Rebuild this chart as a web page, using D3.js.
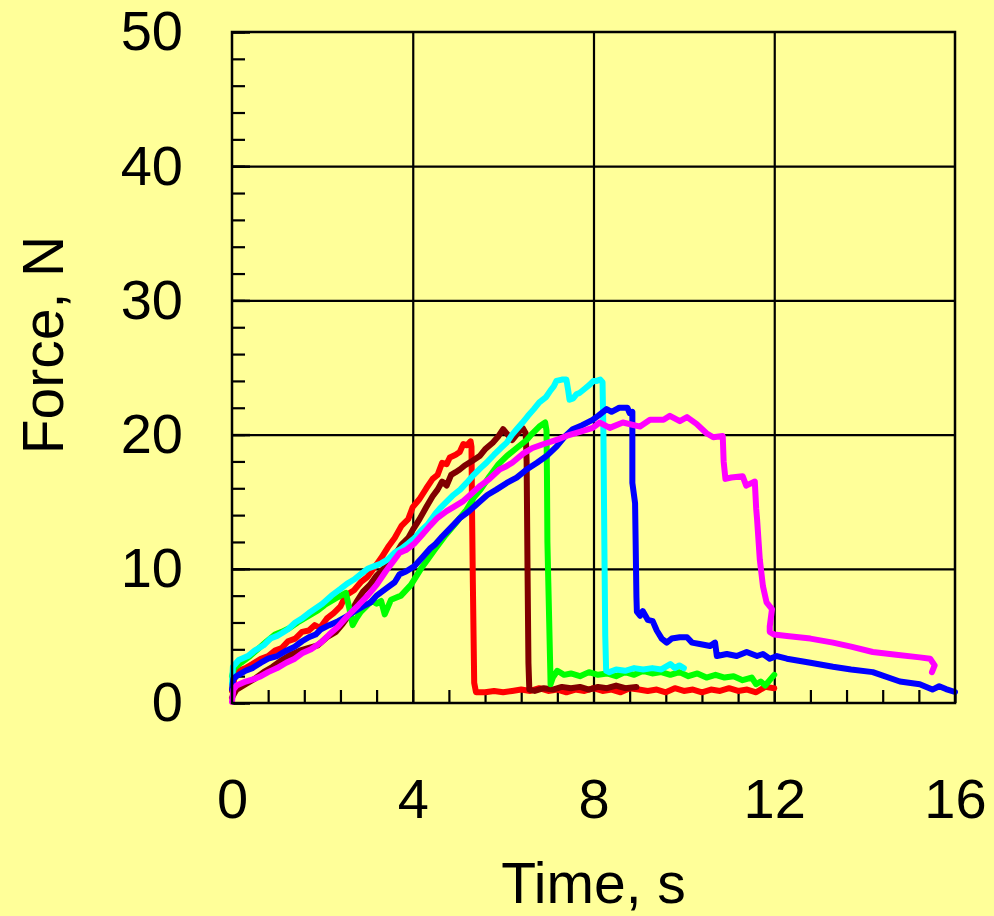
<!DOCTYPE html>
<html>
<head>
<meta charset="utf-8">
<script src="https://cdn.jsdelivr.net/npm/d3@7"></script>
<style>
    html, body {margin: 0; padding: 0; background: #FFFF99;}
    svg {display: block;}
</style>
</head>
<body>
<svg id="chart" width="994" height="916"></svg>
<script>
// series: [time s, force N]
const redSeries = [[0, 0.9], [0.05, 1.8], [0.15, 2.4], [0.3, 2.6], [0.45, 2.9], [0.64, 3.3], [0.8, 3.5], [0.95, 3.9], [1.1, 4.1], [1.24, 4.6], [1.4, 4.8], [1.55, 5.3], [1.7, 5.4], [1.83, 5.8], [1.95, 5.6], [2.1, 6.3], [2.25, 6.7], [2.4, 7.2], [2.5, 7.9], [2.56, 8.1], [2.7, 8.4], [2.85, 9.0], [3.0, 9.4], [3.15, 10.1], [3.3, 10.8], [3.45, 11.6], [3.6, 12.3], [3.75, 13.2], [3.9, 13.7], [4.0, 14.6], [4.15, 15.2], [4.3, 16.0], [4.44, 16.7], [4.55, 17.0], [4.65, 17.9], [4.75, 17.8], [4.82, 18.3], [4.95, 18.5], [5.04, 18.7], [5.12, 19.3], [5.2, 19.2], [5.28, 19.5], [5.3, 19.1], [5.31, 15.0], [5.33, 9.0], [5.36, 1.5], [5.4, 0.8], [5.6, 0.8], [5.8, 0.9], [6.0, 0.8], [6.2, 0.9], [6.4, 1.0], [6.6, 0.9], [6.8, 1.1], [7.0, 0.9], [7.2, 1.0], [7.4, 0.8], [7.6, 1.0], [7.8, 0.9], [8.0, 1.1], [8.2, 0.9], [8.4, 1.0], [8.6, 0.8], [8.8, 1.1], [9.0, 1.0], [9.2, 0.9], [9.4, 1.0], [9.6, 0.8], [9.8, 1.1], [10.0, 0.9], [10.2, 1.0], [10.4, 0.8], [10.6, 1.0], [10.8, 0.9], [11.0, 1.1], [11.2, 0.9], [11.4, 1.0], [11.6, 0.8], [11.8, 1.2], [12.0, 1.1]];

const brownSeries = [[0, 0.4], [0.1, 1.0], [0.3, 1.4], [0.5, 1.8], [0.7, 2.3], [0.9, 2.7], [1.1, 3.2], [1.3, 3.6], [1.5, 3.9], [1.7, 4.1], [1.9, 4.3], [2.1, 4.9], [2.3, 5.3], [2.45, 5.9], [2.6, 6.6], [2.75, 7.5], [2.9, 8.3], [3.05, 8.8], [3.2, 9.5], [3.35, 10.0], [3.45, 10.2], [3.6, 11.0], [3.75, 11.8], [3.9, 12.3], [4.0, 12.9], [4.15, 13.7], [4.3, 14.6], [4.44, 15.4], [4.55, 15.9], [4.65, 16.5], [4.75, 16.2], [4.85, 17.0], [4.95, 17.2], [5.04, 17.4], [5.15, 17.7], [5.3, 18.0], [5.48, 18.4], [5.6, 18.9], [5.77, 19.4], [5.9, 19.9], [6.0, 20.4], [6.1, 20.0], [6.2, 19.6], [6.3, 20.0], [6.43, 20.5], [6.5, 20.1], [6.52, 18.0], [6.54, 10.0], [6.56, 3.0], [6.58, 1.0], [6.7, 0.9], [6.9, 1.1], [7.1, 1.0], [7.3, 1.2], [7.5, 1.1], [7.7, 1.2], [7.9, 1.0], [8.1, 1.2], [8.3, 1.1], [8.5, 1.3], [8.7, 1.1], [8.95, 1.2]];

const greenSeries = [[0, 2.0], [0.05, 2.6], [0.2, 3.0], [0.4, 3.5], [0.57, 4.0], [0.77, 4.6], [0.95, 5.1], [1.1, 5.3], [1.28, 5.6], [1.45, 6.0], [1.6, 6.3], [1.75, 6.6], [1.9, 6.9], [2.05, 7.3], [2.2, 7.6], [2.35, 7.9], [2.52, 8.2], [2.6, 7.0], [2.67, 5.8], [2.75, 6.3], [2.85, 6.8], [3.0, 7.3], [3.1, 7.6], [3.2, 7.4], [3.3, 7.6], [3.38, 6.6], [3.52, 7.7], [3.74, 8.0], [3.96, 8.8], [4.18, 10.0], [4.33, 10.7], [4.5, 11.5], [4.7, 12.4], [4.85, 13.0], [5.0, 13.6], [5.19, 14.4], [5.35, 15.3], [5.5, 15.9], [5.7, 16.9], [5.9, 17.8], [6.08, 18.4], [6.3, 19.0], [6.52, 19.6], [6.65, 20.1], [6.8, 20.6], [6.93, 20.9], [6.96, 20.3], [6.97, 17.0], [6.98, 12.0], [7.0, 9.0], [7.02, 6.0], [7.04, 3.0], [7.05, 1.4], [7.1, 1.9], [7.2, 2.4], [7.35, 2.1], [7.5, 2.2], [7.7, 2.0], [7.9, 2.3], [8.1, 2.1], [8.3, 2.2], [8.5, 2.0], [8.7, 2.3], [8.9, 2.1], [9.1, 2.4], [9.3, 2.2], [9.5, 2.3], [9.7, 2.1], [9.9, 2.3], [10.1, 2.0], [10.3, 2.2], [10.5, 1.9], [10.7, 2.1], [10.9, 1.9], [11.1, 2.0], [11.3, 1.7], [11.5, 1.9], [11.6, 1.4], [11.7, 1.6], [11.8, 1.3], [11.9, 1.7], [12.0, 2.1]];

const cyanSeries = [[0, 1.4], [0.02, 2.7], [0.15, 3.2], [0.35, 3.5], [0.5, 3.9], [0.7, 4.3], [0.85, 4.8], [1.0, 5.0], [1.1, 5.2], [1.24, 5.5], [1.4, 6.0], [1.55, 6.3], [1.7, 6.7], [1.83, 7.0], [2.0, 7.4], [2.2, 8.0], [2.4, 8.5], [2.55, 8.9], [2.7, 9.2], [2.85, 9.6], [3.0, 10.0], [3.15, 10.2], [3.3, 10.4], [3.45, 10.7], [3.6, 11.2], [3.75, 11.5], [3.9, 11.9], [4.04, 12.3], [4.2, 12.9], [4.33, 13.3], [4.5, 14.1], [4.6, 14.5], [4.75, 15.0], [4.9, 15.5], [5.05, 15.9], [5.19, 16.4], [5.35, 17.0], [5.5, 17.5], [5.63, 17.9], [5.8, 18.5], [5.95, 19.0], [6.08, 19.4], [6.2, 20.0], [6.3, 20.4], [6.43, 20.9], [6.55, 21.4], [6.68, 21.9], [6.8, 22.4], [6.95, 22.8], [7.05, 23.3], [7.12, 23.6], [7.18, 24.0], [7.3, 24.1], [7.4, 24.1], [7.44, 23.3], [7.47, 22.6], [7.55, 22.7], [7.62, 23.0], [7.69, 23.1], [7.8, 23.4], [7.91, 23.7], [8.0, 24.0], [8.07, 24.0], [8.15, 24.1], [8.2, 23.9], [8.22, 20.0], [8.24, 12.0], [8.26, 5.0], [8.28, 2.4], [8.35, 2.3], [8.5, 2.5], [8.7, 2.4], [8.9, 2.6], [9.1, 2.5], [9.3, 2.6], [9.5, 2.5], [9.7, 2.9], [9.8, 2.6], [9.9, 2.8], [10.0, 2.6]];

const blueSeries = [[0, 1.0], [0.03, 1.8], [0.1, 2.0], [0.3, 2.4], [0.45, 2.6], [0.64, 3.0], [0.8, 3.3], [1.0, 3.5], [1.2, 3.9], [1.39, 4.2], [1.55, 4.6], [1.7, 4.9], [1.85, 5.1], [1.97, 5.5], [2.15, 5.8], [2.35, 6.1], [2.56, 6.5], [2.7, 6.8], [2.9, 7.2], [3.07, 7.5], [3.2, 8.0], [3.4, 8.5], [3.6, 9.0], [3.71, 9.6], [3.85, 9.8], [4.04, 10.2], [4.2, 10.8], [4.38, 11.5], [4.49, 11.8], [4.65, 12.4], [4.88, 13.2], [5.05, 13.8], [5.25, 14.3], [5.48, 15.0], [5.65, 15.5], [5.85, 15.9], [6.08, 16.4], [6.3, 16.8], [6.52, 17.4], [6.75, 17.9], [6.96, 18.4], [7.18, 19.1], [7.35, 19.8], [7.54, 20.4], [7.75, 20.7], [7.98, 21.1], [8.1, 21.4], [8.29, 21.9], [8.4, 21.7], [8.57, 22.0], [8.75, 22.0], [8.8, 21.6], [8.86, 21.7], [8.86, 16.4], [8.92, 14.9], [8.95, 7.9], [8.96, 6.8], [9.03, 6.5], [9.09, 6.85], [9.2, 6.2], [9.31, 6.1], [9.4, 5.4], [9.51, 4.8], [9.62, 4.5], [9.73, 4.8], [9.91, 4.9], [10.07, 4.9], [10.18, 4.5], [10.35, 4.4], [10.58, 4.25], [10.69, 4.5], [10.73, 3.5], [10.95, 3.65], [11.17, 3.5], [11.39, 3.8], [11.62, 3.5], [11.75, 3.65], [11.9, 3.3], [12.06, 3.5], [12.28, 3.3], [12.8, 3.0], [13.3, 2.7], [13.7, 2.5], [14.18, 2.3], [14.78, 1.6], [15.22, 1.4], [15.5, 1.0], [15.65, 1.25], [15.8, 1.04], [16.0, 0.82]];

const magentaSeries = [[0, 0.1], [0.03, 1.0], [0.1, 1.3], [0.3, 1.6], [0.5, 1.8], [0.64, 2.0], [0.8, 2.3], [1.0, 2.6], [1.2, 3.0], [1.39, 3.3], [1.55, 3.7], [1.75, 4.0], [1.97, 4.5], [2.15, 5.1], [2.35, 5.7], [2.56, 6.5], [2.8, 7.3], [3.0, 8.0], [3.2, 8.8], [3.4, 9.8], [3.6, 10.7], [3.71, 11.2], [3.85, 11.4], [4.04, 11.9], [4.2, 12.5], [4.38, 13.2], [4.55, 13.8], [4.75, 14.3], [4.9, 14.6], [5.1, 15.0], [5.3, 15.6], [5.5, 16.2], [5.7, 16.7], [5.92, 17.4], [6.05, 17.6], [6.2, 17.9], [6.45, 18.6], [6.65, 19.0], [6.9, 19.3], [7.18, 19.6], [7.4, 19.9], [7.7, 20.2], [7.98, 20.5], [8.14, 20.9], [8.36, 20.5], [8.65, 20.9], [9.03, 20.6], [9.25, 21.1], [9.55, 21.1], [9.69, 21.4], [9.91, 21.0], [10.07, 21.3], [10.28, 20.8], [10.5, 20.1], [10.65, 19.8], [10.86, 19.9], [10.88, 18.0], [10.92, 16.7], [11.05, 16.8], [11.3, 16.9], [11.38, 16.2], [11.57, 16.5], [11.6, 14.5], [11.62, 13.7], [11.68, 10.7], [11.75, 8.7], [11.83, 7.5], [11.95, 7.0], [11.9, 5.7], [11.9, 5.3], [12.0, 5.1], [12.28, 5.0], [12.8, 4.8], [13.3, 4.5], [13.7, 4.2], [14.18, 3.8], [14.7, 3.6], [15.22, 3.4], [15.45, 3.3], [15.55, 2.8], [15.49, 2.3]];

const seriesList = [
    {name: 'red', color: '#FF0000', values: redSeries},
    {name: 'brown', color: '#800000', values: brownSeries},
    {name: 'green', color: '#00FF00', values: greenSeries},
    {name: 'cyan', color: '#00FFFF', values: cyanSeries},
    {name: 'blue', color: '#0000FF', values: blueSeries},
    {name: 'magenta', color: '#FF00FF', values: magentaSeries}
];

const xTicks = [0, 4, 8, 12, 16];
const yTicks = [0, 10, 20, 30, 40, 50];
const xMinorTicks = d3.range(0, 16.01, 0.8);
const yMinorTicks = d3.range(0, 50.01, 2);

const xLabel = 'Time, s';
const yLabel = 'Force, N';

const margin = {left: 232, top: 32, right: 39, bottom: 213};
const svgWidth = 994;
const svgHeight = 916;
const plotW = svgWidth - margin.left - margin.right;
const plotH = svgHeight - margin.top - margin.bottom;
const fontFamily = '"Liberation Sans", Arial, sans-serif';

const svg = d3.select('#chart');
svg.append('rect')
    .attr('width', svgWidth)
    .attr('height', svgHeight)
    .attr('fill', '#FFFF99');

const g = svg.append('g').attr('transform', 'translate(' + margin.left + ',' + margin.top + ')');

const x = d3.scaleLinear().domain([0, 16]).range([0, plotW]);
const y = d3.scaleLinear().domain([0, 50]).range([plotH, 0]);

function styleTicks(sel, width) {
    sel.select('.domain').remove();
    sel.selectAll('.tick line').attr('stroke', '#000').attr('stroke-width', width);
    sel.selectAll('.tick text').remove();
}

// grid lines
g.append('g')
    .attr('transform', 'translate(0,' + plotH + ')')
    .call(d3.axisBottom(x).tickValues(xTicks.slice(1, -1)).tickSize(-plotH))
    .call(styleTicks, 2.2);
g.append('g')
    .call(d3.axisLeft(y).tickValues(yTicks.slice(1, -1)).tickSize(-plotW))
    .call(styleTicks, 2.2);

// inner minor ticks
g.append('g')
    .attr('transform', 'translate(0,' + plotH + ')')
    .call(d3.axisBottom(x).tickValues(xMinorTicks).tickSize(-13))
    .call(styleTicks, 2.2);
g.append('g')
    .call(d3.axisLeft(y).tickValues(yMinorTicks).tickSize(-13))
    .call(styleTicks, 2.2);
g.append('g')
    .call(d3.axisLeft(y).tickValues(yTicks).tickSize(-18))
    .call(styleTicks, 2.5);

// series
const line = d3.line()
    .x(d => x(d[0]))
    .y(d => y(d[1]));

const seriesGroup = g.append('g');
seriesList.forEach(s => {
    seriesGroup.append('path')
        .datum(s.values)
        .attr('class', 'series ' + s.name)
        .attr('d', line)
        .attr('fill', 'none')
        .attr('stroke', s.color)
        .attr('stroke-width', 6)
        .attr('stroke-linejoin', 'round')
        .attr('stroke-linecap', 'round');
});

// frame
g.append('rect')
    .attr('width', plotW)
    .attr('height', plotH)
    .attr('fill', 'none')
    .attr('stroke', '#000')
    .attr('stroke-width', 2.5);

// tick labels
const xAxisLabels = g.append('g')
    .attr('transform', 'translate(0,' + plotH + ')')
    .call(d3.axisBottom(x).tickValues(xTicks).tickSize(0).tickPadding(75).tickFormat(d3.format('d')));
const yAxisLabels = g.append('g')
    .call(d3.axisLeft(y).tickValues(yTicks).tickSize(0).tickPadding(49).tickFormat(d3.format('d')));

[xAxisLabels, yAxisLabels].forEach(a => {
    a.select('.domain').remove();
    a.selectAll('text')
        .attr('fill', '#000')
        .style('font-family', fontFamily)
        .style('font-size', '56px');
});

// axis titles
svg.append('text')
    .attr('x', margin.left + plotW / 2)
    .attr('y', 903)
    .attr('text-anchor', 'middle')
    .style('font-family', fontFamily)
    .style('font-size', '57px')
    .text(xLabel);

svg.append('text')
    .attr('transform', 'translate(63,345) rotate(-90)')
    .attr('text-anchor', 'middle')
    .style('font-family', fontFamily)
    .style('font-size', '57px')
    .text(yLabel);
</script>
</body>
</html>
